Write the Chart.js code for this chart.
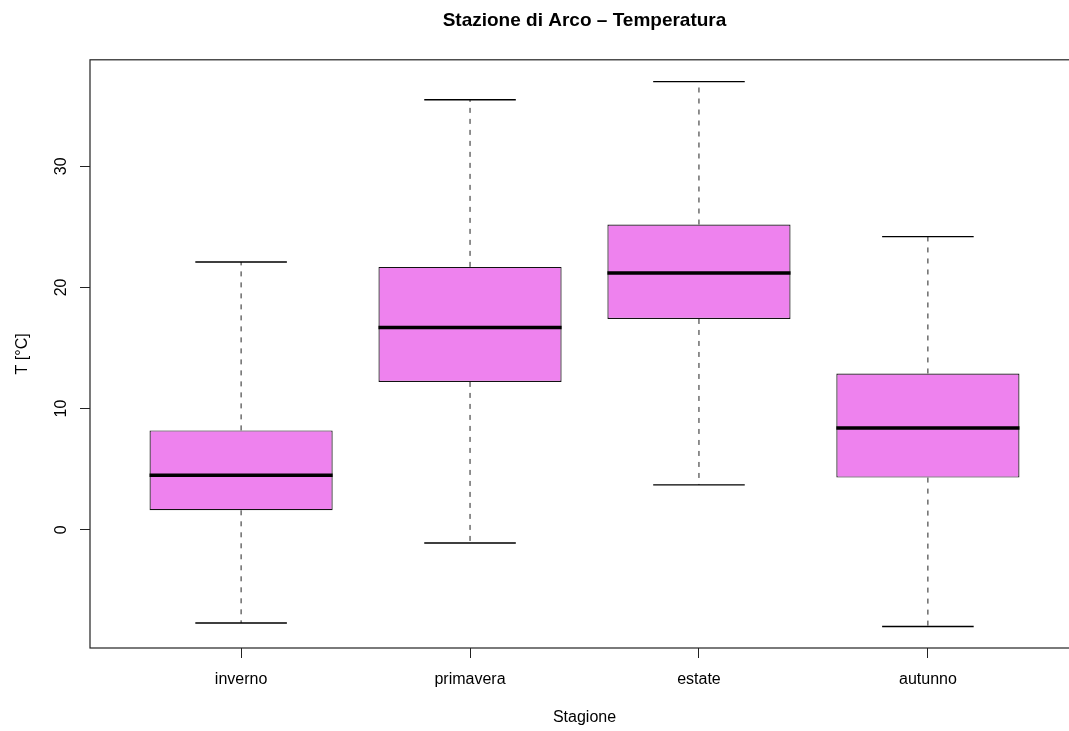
<!DOCTYPE html>
<html>
<head>
<meta charset="utf-8">
<script src="https://cdn.jsdelivr.net/npm/chart.js@4"></script>
<style>
  html, body { margin: 0; padding: 0; background: #fff; overflow: hidden; }
  #wrap { width: 1169px; height: 731px; }
</style>
</head>
<body>
<div id="wrap"><canvas id="box"></canvas></div>
<script>
// boxplot stats
const stagioni = ['inverno', 'primavera', 'estate', 'autunno'];
const whiskLo = [-7.7, -1.1, 3.7, -8.0];
const q1 = [1.6, 12.2, 17.4, 4.3];
const mediane = [4.5, 16.7, 21.2, 8.4];
const q3 = [8.2, 21.7, 25.2, 12.9];
const whiskHi = [22.1, 35.5, 37.0, 24.2];
const yTicks = [0, 10, 20, 30];

const font = "'Liberation Sans', Arial, Helvetica, sans-serif";
Chart.defaults.font.family = font;
Chart.defaults.color = '#000';

const boxes = stagioni.map((s, i) => ({ x: i + 1, y: [q1[i], q3[i]] }));

let baffi = [], stanghette = [], medianLines = [];
stagioni.forEach((s, i) => {
    const x = i + 1;
    baffi.push({ x: x, y: q3[i] }, { x: x, y: whiskHi[i] }, { x: x, y: null });
    baffi.push({ x: x, y: q1[i] }, { x: x, y: whiskLo[i] }, { x: x, y: null });
    stanghette.push({ x: x - 0.2, y: whiskHi[i] }, { x: x + 0.2, y: whiskHi[i] }, { x: x, y: null });
    stanghette.push({ x: x - 0.2, y: whiskLo[i] }, { x: x + 0.2, y: whiskLo[i] }, { x: x, y: null });
    medianLines.push({ x: x - 0.4, y: mediane[i] }, { x: x + 0.4, y: mediane[i] }, { x: x, y: null });
});

// frame around the plot like R's box()
const frame = {
    id: 'frame',
    afterDraw(chart) {
        const a = chart.chartArea, c = chart.ctx;
        c.save();
        c.strokeStyle = '#222';
        c.lineWidth = 1.2;
        c.strokeRect(a.left, a.top, a.right - a.left, a.bottom - a.top);
        c.restore();
    }
};

new Chart('box', {
    type: 'bar',
    data: {
        datasets: [{
            type: 'line',
            data: medianLines,
            borderColor: '#000',
            borderWidth: 3.5,
            pointRadius: 0,
            order: 0
        }, {
            type: 'bar',
            data: boxes,
            backgroundColor: '#EE82EE',
            borderColor: '#111',
            borderWidth: 1.2,
            borderSkipped: false,
            categoryPercentage: 1,
            barPercentage: 0.8,
            order: 1
        }, {
            type: 'line',
            data: stanghette,
            borderColor: '#000',
            borderWidth: 1.4,
            pointRadius: 0,
            order: 2
        }, {
            type: 'line',
            data: baffi,
            borderColor: '#222',
            borderWidth: 1,
            borderDash: [5, 6],
            pointRadius: 0,
            order: 3
        }]
    },
    options: {
        responsive: true,
        maintainAspectRatio: false,
        animation: false,
        layout: { padding: { left: 0, right: 90, top: 0, bottom: 0 } },
        plugins: {
            legend: { display: false },
            tooltip: { enabled: false },
            title: {
                display: true,
                fullSize: false,
                text: 'Stazione di Arco \u2013 Temperatura',
                font: { size: 19, weight: 'bold' },
                color: '#000',
                padding: { top: 9, bottom: 28 }
            }
        },
        scales: {
            x: {
                type: 'linear',
                min: 0.34,
                max: 4.66,
                offset: false,
                afterBuildTicks: (ax) => { ax.ticks = stagioni.map((s, i) => ({ value: i + 1 })); },
                afterFit: (ax) => { ax.height = 83; },
                ticks: {
                    callback: (v) => stagioni[v - 1],
                    font: { size: 16 },
                    color: '#000',
                    padding: 12,
                    maxRotation: 0,
                    autoSkip: false
                },
                grid: { offset: false, drawOnChartArea: false, drawTicks: true, tickLength: 10, color: '#222' },
                border: { display: false },
                title: { display: true, text: 'Stagione', font: { size: 16 }, color: '#000', padding: { top: 4, bottom: 4 } }
            },
            y: {
                min: -9.77,
                max: 38.8,
                afterBuildTicks: (ax) => { ax.ticks = yTicks.map(v => ({ value: v })); },
                afterFit: (ax) => { ax.width = 90; },
                ticks: {
                    font: { size: 16 },
                    color: '#000',
                    padding: 10,
                    minRotation: 90,
                    maxRotation: 90,
                    crossAlign: 'center'
                },
                grid: { drawOnChartArea: false, drawTicks: true, tickLength: 10, color: '#222' },
                border: { display: false },
                title: { display: true, text: 'T [\u00B0C]', font: { size: 16 }, color: '#000', padding: { top: 13, bottom: 4 } }
            }
        }
    },
    plugins: [frame]
});
</script>
</body>
</html>
